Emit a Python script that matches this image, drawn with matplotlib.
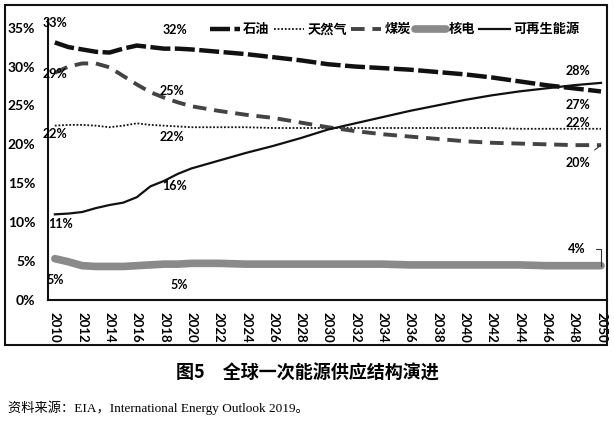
import matplotlib
matplotlib.use('Agg')
import matplotlib.pyplot as plt
from matplotlib.patches import Rectangle

plt.rcParams['font.family'] = ['Lato', 'Noto Sans CJK SC', 'DejaVu Sans']

years = [2010, 2011, 2012, 2013, 2014, 2015, 2016, 2017, 2018, 2019, 2020,
         2022, 2024, 2026, 2028, 2030, 2032, 2034, 2036, 2038, 2040,
         2042, 2044, 2046, 2048, 2050]
oil = [33.1, 32.5, 32.2, 31.9, 31.8, 32.3, 32.7, 32.5, 32.3, 32.3, 32.2,
       31.9, 31.6, 31.2, 30.8, 30.3, 30.0, 29.8, 29.6, 29.3, 29.0,
       28.6, 28.1, 27.6, 27.2, 26.8]
gas = [22.4, 22.5, 22.5, 22.4, 22.2, 22.4, 22.7, 22.5, 22.4, 22.3, 22.2,
       22.2, 22.2, 22.1, 22.1, 22.1, 22.1, 22.1, 22.1, 22.1, 22.1,
       22.1, 22.0, 22.0, 22.0, 22.0]
coal = [29.2, 30.0, 30.4, 30.4, 29.9, 28.8, 27.7, 26.7, 26.0, 25.4, 24.9,
        24.3, 23.8, 23.4, 22.8, 22.2, 21.7, 21.3, 21.0, 20.7, 20.4,
        20.2, 20.1, 20.0, 19.9, 19.9]
nuclear = [5.3, 4.9, 4.4, 4.3, 4.3, 4.3, 4.4, 4.5, 4.6, 4.6, 4.7,
           4.7, 4.6, 4.6, 4.6, 4.6, 4.6, 4.6, 4.5, 4.5, 4.5,
           4.5, 4.5, 4.4, 4.4, 4.4]
renew = [11.0, 11.1, 11.3, 11.8, 12.2, 12.5, 13.2, 14.6, 15.3, 16.2, 16.9,
         17.9, 18.9, 19.8, 20.8, 21.9, 22.7, 23.5, 24.3, 25.0, 25.7,
         26.3, 26.8, 27.2, 27.6, 27.9]

names = ['石油', '天然气', '煤炭', '核电', '可再生能源']
tick_years = list(range(2010, 2051, 2))
y_ticks = [0, 5, 10, 15, 20, 25, 30, 35]

# 数据标签: (文本, 年份, 百分比)
labels = [('33%', 2010, 35.6), ('29%', 2010, 29.0), ('22%', 2010, 21.3),
          ('11%', 2010.4, 9.7), ('5%', 2010, 2.6),
          ('32%', 2018.8, 34.7), ('25%', 2018.6, 26.8), ('22%', 2018.6, 20.9),
          ('16%', 2018.8, 14.6), ('5%', 2019.1, 1.9),
          ('28%', 2048.3, 29.4), ('27%', 2048.3, 25.1), ('22%', 2048.3, 22.7)]

fig = plt.figure(figsize=(6.14, 4.23), dpi=100)
ax = fig.add_axes([0.078, 0.291, 0.9106, 0.662])

ax.plot(years, oil, color='#111111', lw=3.2, dashes=(4.5, 1), label=names[0])
ax.plot(years, gas, color='#111111', lw=1.3, ls=(0, (1, 1)), label=names[1])
ax.plot(years, coal, color='#444444', lw=2.8, dashes=(3.5, 2), label=names[2])
ax.plot(years, nuclear, color='#8a8a8a', lw=5.5, solid_capstyle='round', label=names[3])
ax.plot(years, renew, color='#111111', lw=1.6, label=names[4])

for txt, x, y in labels:
    ax.text(x, y, txt, ha='center', va='center', fontsize=9, fontweight='bold')

ax.annotate('20%', xy=(years[-1], coal[-1]), xytext=(2048.3, 17.6),
            ha='center', va='center', fontsize=9, fontweight='bold',
            arrowprops=dict(arrowstyle='-', color='#333333', lw=0.8,
                            shrinkA=5, shrinkB=0))
ax.annotate('4%', xy=(years[-1], nuclear[-1]), xytext=(2048.2, 6.5),
            ha='center', va='center', fontsize=9, fontweight='bold',
            arrowprops=dict(arrowstyle='-', color='#333333', lw=0.8,
                            connectionstyle='angle,angleA=0,angleB=90,rad=0',
                            shrinkA=6, shrinkB=0))

ax.set_xlim(2009.49, 2050.44)
ax.set_ylim(0, 36)
ax.set_xticks(tick_years)
ax.set_xticklabels([str(y) for y in tick_years], rotation=270, fontsize=9.5, fontweight='bold')
ax.set_yticks(y_ticks)
ax.set_yticklabels([f'{v}%' for v in y_ticks], fontsize=10, fontweight='bold')
ax.tick_params(length=0, pad=9)
ax.spines['top'].set_visible(False)
ax.spines['right'].set_visible(False)
for s in ['left', 'bottom']:
    ax.spines[s].set_linewidth(1.5)
    ax.spines[s].set_color('#111111')

leg = ax.legend(loc='upper right', bbox_to_anchor=(0.962, 1.015), ncol=5, frameon=False,
                handlelength=2.3, handletextpad=0.25, columnspacing=0.3,
                borderaxespad=0.1, prop={'family': ['Noto Sans CJK SC'], 'weight': 'bold', 'size': 9.5})

fig.patches.append(Rectangle((0.008, 0.184), 0.980, 0.804, transform=fig.transFigure,
                             fill=False, edgecolor='#111111', lw=1.5))

fig.text(0.5, 0.118, '图5　全球一次能源供应结构演进', ha='center', va='center',
         fontsize=13, fontweight='bold', family=['Noto Sans CJK SC'])
fig.text(0.013, 0.035, '资料来源：EIA，International Energy Outlook 2019。', ha='left', va='center',
         fontsize=9.5, family=['Liberation Serif', 'Noto Sans CJK SC'])

fig.savefig('out.png', dpi=100)
